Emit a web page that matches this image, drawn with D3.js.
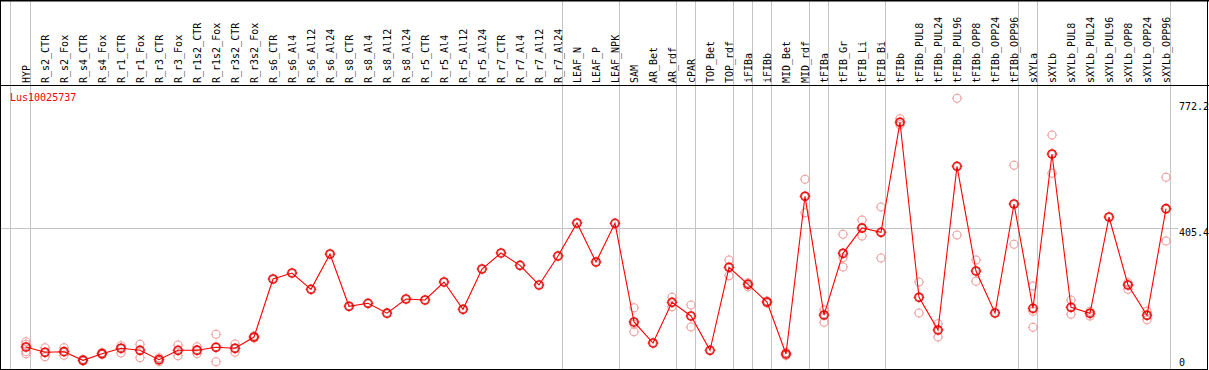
<html>
<head>
<title>Lus10025737</title>
<script type="text/javascript" src="https://cdn.jsdelivr.net/npm/d3@7/dist/d3.min.js"></script>
<style>
  * { margin: 0; padding: 0; }
  body { background: #fff; }
  svg { display: block; }
  text { font-family: "DejaVu Sans Mono", monospace; font-size: 10px; }
</style>
</head>
<body>
<div id="chart"></div>
<script type="text/javascript">
  var geneName = 'Lus10025737';

  var categories = ['HYP', 'R_s2_CTR', 'R_s2_Fox', 'R_s4_CTR', 'R_s4_Fox', 'R_r1_CTR', 'R_r1_Fox',
    'R_r3_CTR', 'R_r3_Fox', 'R_r1s2_CTR', 'R_r1s2_Fox', 'R_r3s2_CTR', 'R_r3s2_Fox',
    'R_s6_CTR', 'R_s6_Al4', 'R_s6_Al12', 'R_s6_Al24', 'R_s8_CTR', 'R_s8_Al4', 'R_s8_Al12', 'R_s8_Al24',
    'R_r5_CTR', 'R_r5_Al4', 'R_r5_Al12', 'R_r5_Al24', 'R_r7_CTR', 'R_r7_Al4', 'R_r7_Al12', 'R_r7_Al24',
    'LEAF_N', 'LEAF_P', 'LEAF_NPK', 'SAM', 'AR_Bet', 'AR_rdf', 'cPAR', 'TOP_Bet', 'TOP_rdf',
    'iFIBa', 'iFIBb', 'MID_Bet', 'MID_rdf', 'tFIBa', 'tFIB_Gr', 'tFIB_Li', 'tFIB_Bi',
    'tFIBb', 'tFIBb_PUL8', 'tFIBb_PUL24', 'tFIBb_PUL96', 'tFIBb_OPP8', 'tFIBb_OPP24', 'tFIBb_OPP96',
    'sXYLa', 'sXYLb', 'sXYLb_PUL8', 'sXYLb_PUL24', 'sXYLb_PUL96', 'sXYLb_OPP8', 'sXYLb_OPP24', 'sXYLb_OPP96'];

  // first sample of each tissue group (gray separators)
  var groupStarts = ['HYP', 'R_s2_CTR', 'LEAF_N', 'SAM', 'cPAR', 'TOP_Bet', 'iFIBa', 'iFIBb',
    'MID_Bet', 'tFIBa', 'tFIB_Gr', 'tFIBb', 'sXYLa', 'sXYLb'];

  var means = [70.5, 55.6, 57.3, 33.0, 51.6, 66.9, 61.2, 34.7, 61.2, 61.5, 69.7, 66.9, 98.7,
    262.4, 279.3, 233.3, 332.9, 185.4, 193.8, 165.9, 206.0, 203.1, 253.9, 176.9, 290.6,
    335.7, 301.0, 245.5, 327.3, 420.4, 310.3, 419.5, 141.1, 81.8, 196.6, 158.0, 61.2, 295.4,
    247.4, 197.5, 50.8, 495.7, 160.8, 334.9, 406.3, 394.1, 704.5, 210.8, 118.5, 580.3, 285.0,
    166.5, 474.0, 179.7, 615.0, 182.5, 165.6, 437.3, 245.5, 160.0, 460.7];

  var replicates = [
    [85.5, 78.2, 57.8, 51.6], [68.6, 43.2], [68.6, 47.1], [35.8, 31.0], [55.0, 49.4],
    [74.2, 53.6], [78.2, 40.3], [40.3, 29.6], [76.2, 46.0], [71.4, 52.2], [106.4, 29.1],
    [79.0, 55.6], [101.6, 95.9],
    [], [], [], [], [], [], [], [], [], [], [], [], [], [], [], [], [], [], [],
    [181.4, 113.7, 134.6], [], [210.8, 184.2], [189.0, 127.0], [], [316.0, 271.7],
    [252.0, 240.7], [200.3, 194.7], [55.0, 46.6], [543.7, 449.4], [174.9, 140.2],
    [388.5, 322.5, 296.2], [428.8, 383.7], [465.5, 321.6], [714.6, 697.7], [253.9, 166.5],
    [136.3, 98.7], [772.2, 386.5], [316.0, 255.9], [], [583.2, 360.3], [242.6, 126.1, 171.3],
    [668.7, 560.6], [203.1, 162.8], [171.3, 158.0], [], [252.0, 233.3], [171.3, 147.6],
    [549.3, 369.6]];

  var yTicks = ['772.2', '405.4', '0'];
  var midValue = 405.4;
  var maxValue = 772.2;

  var W = 1209, H = 370, headerH = 85;

  var svg = d3.select('#chart').append('svg')
      .attr('width', W)
      .attr('height', H);

  var x = d3.scaleBand().domain(categories).range([16.5, 16.5 + 19 * categories.length]);
  var cx = function(c) { return x(c) + x.bandwidth() / 2; };
  var y = d3.scaleLinear().domain([0, maxValue]).range([372, 98.3]);
  var plotRight = x.range()[1] - 5;

  // gray separators
  var seps = groupStarts.map(function(c) { return Math.round(x(c) - 5) - 0.5; });
  seps.push(Math.round(plotRight) - 0.5);
  seps[0] = seps[0] - 1;
  svg.selectAll('line.sep').data(seps)
    .enter().append('line')
      .attr('class', 'sep')
      .attr('x1', function(d) { return d; })
      .attr('x2', function(d) { return d; })
      .attr('y1', 0)
      .attr('y2', H)
      .attr('stroke', '#c4c4c4')
      .attr('stroke-width', 1)
      .attr('shape-rendering', 'crispEdges');

  // mid line
  var ym = Math.round(y(midValue)) + 0.5;
  svg.append('line')
    .attr('x1', 0).attr('x2', 1178)
    .attr('y1', ym).attr('y2', ym)
    .attr('stroke', '#c4c4c4')
    .attr('shape-rendering', 'crispEdges');

  // frame
  svg.append('rect')
    .attr('x', 0.5).attr('y', 0.5)
    .attr('width', W - 2).attr('height', H - 1)
    .attr('fill', 'none')
    .attr('stroke', '#000')
    .attr('stroke-width', 1)
    .attr('shape-rendering', 'crispEdges');
  svg.append('line')
    .attr('x1', 0).attr('x2', W)
    .attr('y1', 0.5).attr('y2', 0.5)
    .attr('stroke', '#000')
    .attr('stroke-width', 2);
  svg.append('line')
    .attr('x1', 0).attr('x2', W)
    .attr('y1', headerH + 0.5).attr('y2', headerH + 0.5)
    .attr('stroke', '#000')
    .attr('stroke-width', 1)
    .attr('shape-rendering', 'crispEdges');

  // sample labels
  svg.selectAll('text.lab').data(categories)
    .enter().append('text')
      .attr('class', 'lab')
      .attr('transform', function(c) { return 'translate(' + cx(c) + ',' + (headerH - 2) + ') rotate(-90)'; })
      .attr('dy', '0.36em')
      .attr('fill', '#000')
      .text(function(c) { return c; });

  // title
  svg.append('text')
    .attr('x', 10).attr('y', 101)
    .attr('fill', '#ff0000')
    .text(geneName);

  // right axis labels
  var tickY = [110, ym + 7, 366];
  svg.selectAll('text.tick').data(yTicks)
    .enter().append('text')
      .attr('class', 'tick')
      .attr('x', 1179)
      .attr('y', function(d, i) { return tickY[i]; })
      .attr('fill', '#000')
      .text(function(d) { return d; });

  var marker = function(g, px, py, r, color, sw) {
    g.append('circle')
      .attr('cx', px).attr('cy', py).attr('r', r)
      .attr('fill', 'none')
      .attr('stroke', color)
      .attr('stroke-width', sw);
    g.append('path')
      .attr('d', 'M' + px + ' ' + (py - r - 1.2) + 'V' + (py - r + 0.5) +
        'M' + px + ' ' + (py + r - 0.5) + 'V' + (py + r + 1.2) +
        'M' + (px - r - 1.2) + ' ' + py + 'H' + (px - r + 0.5) +
        'M' + (px + r - 0.5) + ' ' + py + 'H' + (px + r + 1.2))
      .attr('stroke', color)
      .attr('stroke-width', 0.9);
  };

  // replicates
  var repG = svg.append('g');
  categories.forEach(function(c, i) {
    replicates[i].forEach(function(v) {
      marker(repG, cx(c), y(v), 4, '#f0a0a0', 1.1);
    });
  });

  // mean line
  var line = d3.line()
    .x(function(d, i) { return cx(categories[i]); })
    .y(function(d) { return y(d); });
  svg.append('path')
    .datum(means)
    .attr('d', line)
    .attr('fill', 'none')
    .attr('stroke', '#ff0000')
    .attr('stroke-width', 1.1);

  // mean markers
  var meanG = svg.append('g');
  categories.forEach(function(c, i) {
    marker(meanG, cx(c), y(means[i]), 4.2, '#ff0000', 1.3);
    meanG.append('circle')
      .attr('cx', cx(c)).attr('cy', y(means[i])).attr('r', 3.4)
      .attr('fill', 'none')
      .attr('stroke', '#900000')
      .attr('stroke-width', 0.5);
  });
</script>
</body>
</html>
